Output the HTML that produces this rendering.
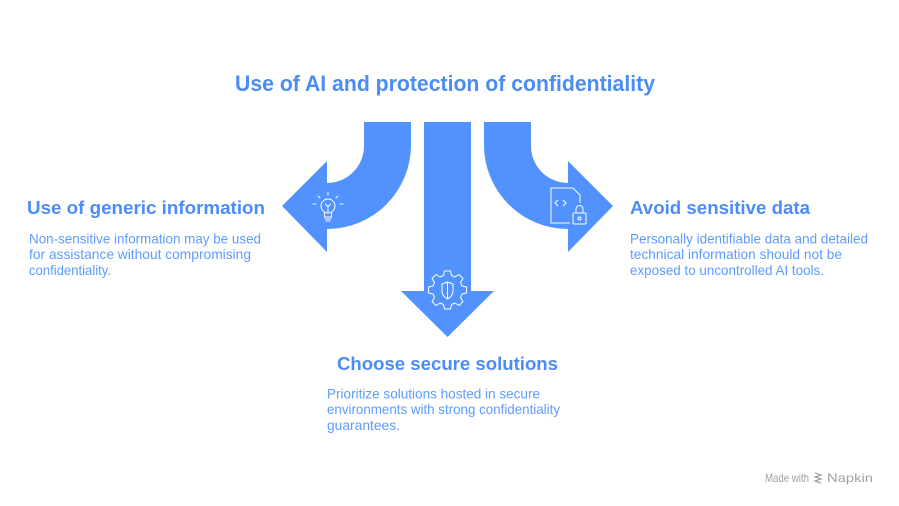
<!DOCTYPE html>
<html><head><meta charset="utf-8"><style>
html,body{margin:0;padding:0;background:#fff;}
svg{display:block;}
text{font-family:"Liberation Sans",Arial,sans-serif;}
</style></head><body>
<svg width="899" height="506" viewBox="0 0 899 506" xmlns="http://www.w3.org/2000/svg">
<rect width="899" height="506" fill="#fff"/>
<!-- Title -->
<text x="235" y="91" font-size="22" font-weight="bold" fill="#4d8cf5" textLength="420" lengthAdjust="spacingAndGlyphs">Use of AI and protection of confidentiality</text>

<!-- Left arrow -->
<path d="M364,122 L411,122 L411,145 A84,84 0 0 1 327,229 L327,252 L282,206 L327,161 L327,183 A37,37 0 0 0 364,146 Z" fill="#5192ff"/>
<!-- Right arrow -->
<path d="M531,122 L484,122 L484,145 A84,84 0 0 0 568,229 L568,252 L613,206 L568,161 L568,183 A37,37 0 0 1 531,146 Z" fill="#5192ff"/>
<!-- Middle arrow -->
<path d="M424,122 L471,122 L471,291 L494,291 L447.5,337 L401,291 L424,291 Z" fill="#5192ff"/>

<!-- Lightbulb icon -->
<g stroke="#fff" stroke-width="1" fill="none" stroke-linecap="round">
  <circle cx="328" cy="206" r="7"/>
  <path d="M324.5,212 L324.5,217 L331.5,217 L331.5,212"/>
  <path d="M325,219 L331,219 M326,221 L330,221"/>
  <path d="M325.5,204 L328,207 L330.5,204 M328,207 L328,212"/>
  <path d="M328,192 L328,195 M318,196 L320,198 M338,196 L336,198 M313,204 L316,204 M340,204 L343,204"/>
</g>

<!-- Document + lock icon -->
<g stroke="#fff" stroke-width="1" fill="none" stroke-linejoin="round">
  <path d="M570,223 L551,223 L551,188 L573,188 L580,195 L580,203"/>
  <path d="M558,200 L555,203 L558,206 M563,200 L566,203 L563,206"/>
  <rect x="573" y="213" width="13" height="11" rx="1"/>
  <path d="M576,213 L576,209 A3.5,3.5 0 0 1 583,209 L583,213"/>
  <circle cx="579.5" cy="218.5" r="1.5"/>
</g>

<!-- Gear + shield icon -->
<g stroke="#fff" stroke-width="1" fill="none" stroke-linejoin="round">
  <path d="M444.5,274 L450.5,274 L451.5,278.5 L455,280 L459,277.5 L463,281.5 L460.5,285.5 L462,289 L466.5,290 L466.5,296 L462,297 L460.5,300.5 L463,304.5 L459,308.5 L455,306 L451.5,307.5 L450.5,312 L444.5,312 L443.5,307.5 L440,306 L436,308.5 L432,304.5 L434.5,300.5 L433,297 L428.5,296 L428.5,290 L433,289 L434.5,285.5 L432,281.5 L436,277.5 L440,280 L443.5,278.5 Z" transform="translate(0,-3)"/>
  <path d="M442,284 L447.5,282 L453,284 L453,291 Q453,296 447.5,299 Q442,296 442,291 Z"/>
  <path d="M447.5,282 L447.5,299"/>
</g>

<!-- Left text -->
<text x="27" y="214" font-size="18" font-weight="bold" fill="#4d8cf5" textLength="238" lengthAdjust="spacingAndGlyphs">Use of generic information</text>
<g font-size="14" fill="#5d9cff">
<text x="29" y="243.5" textLength="232" lengthAdjust="spacingAndGlyphs">Non-sensitive information may be used</text>
<text x="29" y="259" textLength="222" lengthAdjust="spacingAndGlyphs">for assistance without compromising</text>
<text x="29" y="275" textLength="82" lengthAdjust="spacingAndGlyphs">confidentiality.</text>
</g>

<!-- Right text -->
<text x="630" y="214" font-size="18" font-weight="bold" fill="#4d8cf5" textLength="180" lengthAdjust="spacingAndGlyphs">Avoid sensitive data</text>
<g font-size="14" fill="#5d9cff">
<text x="630" y="243.5" textLength="238" lengthAdjust="spacingAndGlyphs">Personally identifiable data and detailed</text>
<text x="630" y="259" textLength="212" lengthAdjust="spacingAndGlyphs">technical information should not be</text>
<text x="630" y="275" textLength="194" lengthAdjust="spacingAndGlyphs">exposed to uncontrolled AI tools.</text>
</g>

<!-- Middle text -->
<text x="337" y="370" font-size="18" font-weight="bold" fill="#4d8cf5" textLength="221" lengthAdjust="spacingAndGlyphs">Choose secure solutions</text>
<g font-size="14" fill="#5d9cff">
<text x="327" y="398.5" textLength="213" lengthAdjust="spacingAndGlyphs">Prioritize solutions hosted in secure</text>
<text x="327" y="414" textLength="233" lengthAdjust="spacingAndGlyphs">environments with strong confidentiality</text>
<text x="327" y="430" textLength="73" lengthAdjust="spacingAndGlyphs">guarantees.</text>
</g>

<!-- Footer -->
<text x="765" y="482" font-size="12" fill="#a0a0a0" textLength="44" lengthAdjust="spacingAndGlyphs">Made with</text>
<g stroke="#a0a0a0" stroke-width="1.2" fill="none">
  <path d="M815,473 L821,475 L815,477 L821,479 L815,481 L821,483"/>
</g>
<text x="827" y="482" font-size="12" fill="#a0a0a0" textLength="46" lengthAdjust="spacingAndGlyphs">Napkin</text>
</svg>
</body></html>
